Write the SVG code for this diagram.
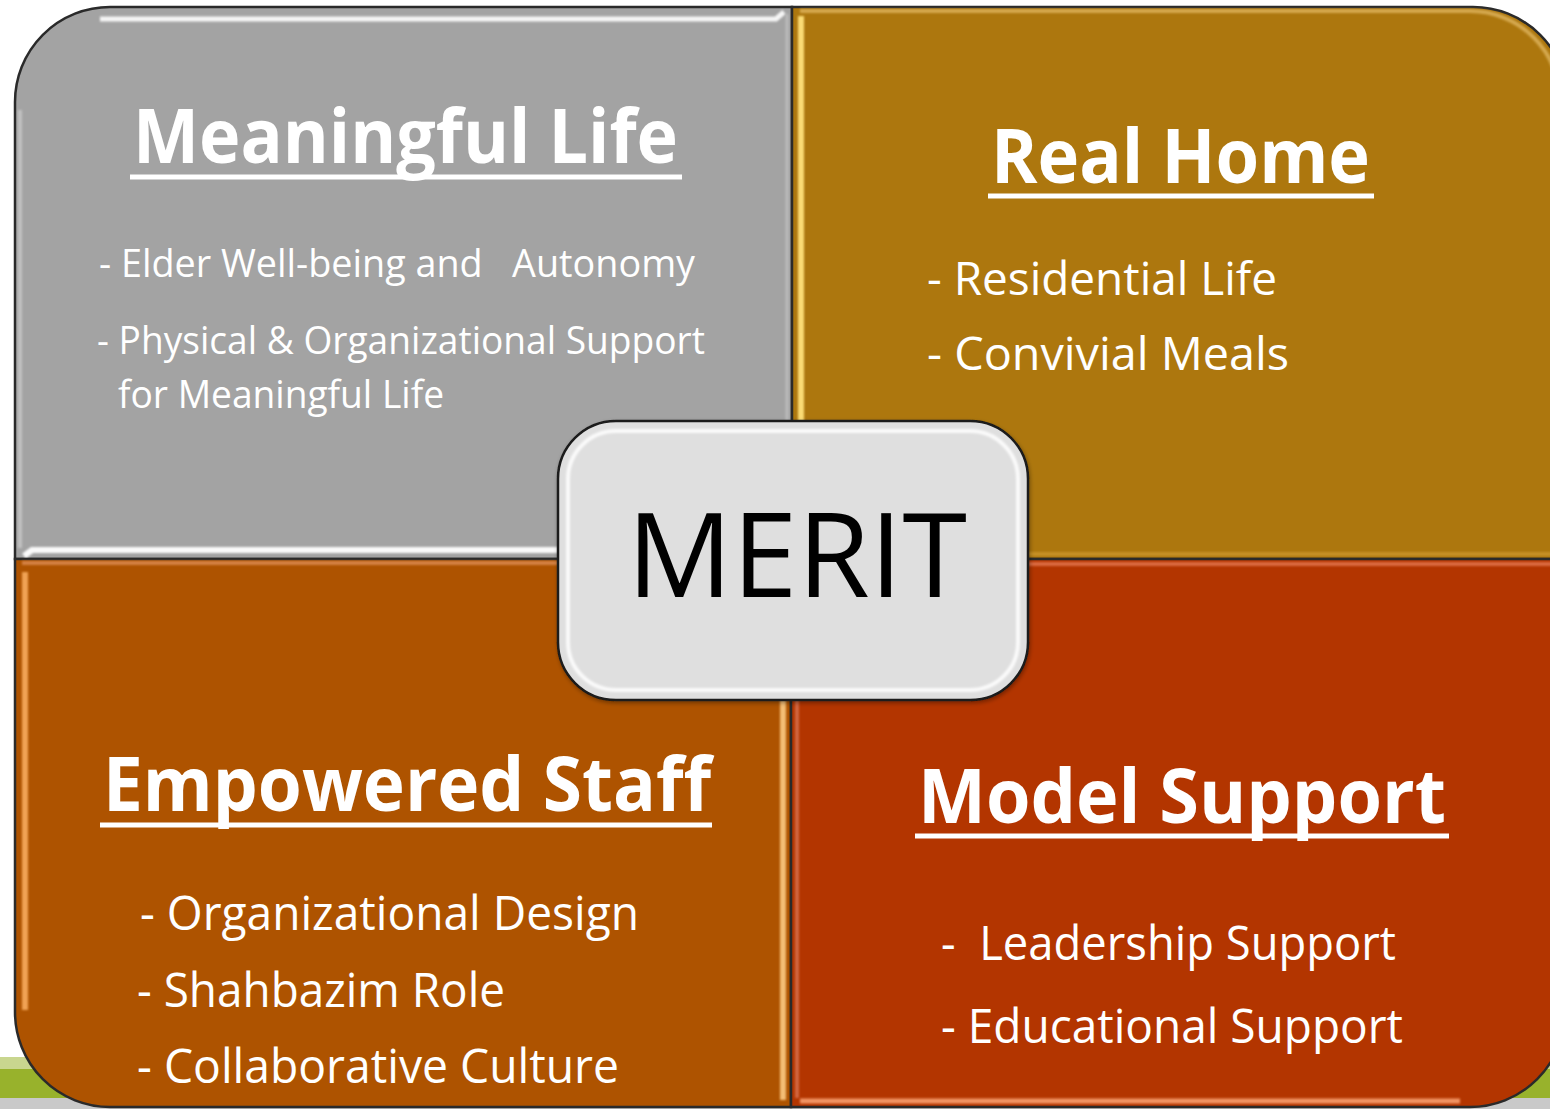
<svg xmlns="http://www.w3.org/2000/svg" width="1550" height="1109" viewBox="0 0 1550 1109">
  <style>
    .quad { stroke: #2a2a2a; stroke-width: 2.5; }
    .title { font-family: "Open Sans", "Liberation Sans", sans-serif; font-weight: 700; font-size: 76px; fill: #ffffff; }
    .body { font-family: "Open Sans", "Liberation Sans", sans-serif; font-weight: 400; fill: #ffffff; white-space: pre; }
    .uline { stroke: #ffffff; stroke-width: 5; }
    .hl { fill: none; stroke-linecap: butt; filter: url(#soft); }
    .merit { font-family: "Open Sans", "Liberation Sans", sans-serif; font-size: 118px; fill: #000000; }
  </style>
  <defs>
    <filter id="soft" filterUnits="userSpaceOnUse" x="0" y="0" width="1600" height="1120">
      <feGaussianBlur stdDeviation="1.2"/>
    </filter>
    <filter id="shadow" filterUnits="userSpaceOnUse" x="530" y="400" width="530" height="330">
      <feGaussianBlur in="SourceAlpha" stdDeviation="2"/>
      <feOffset dx="1" dy="2" result="b"/>
      <feComponentTransfer><feFuncA type="linear" slope="0.35"/></feComponentTransfer>
      <feMerge><feMergeNode/><feMergeNode in="SourceGraphic"/></feMerge>
    </filter>
  </defs>

  <!-- slide background -->
  <rect x="0" y="0" width="1550" height="1109" fill="#ffffff"/>
  <rect x="0" y="1057" width="1550" height="12" fill="#c9d68f"/>
  <rect x="0" y="1069" width="1550" height="29" fill="#98b22c"/>
  <rect x="0" y="1098" width="1550" height="11" fill="#c9c9c9"/>

  <g id="connectors"/>

  <!-- Top-left: Meaningful Life -->
  <g id="node-meaningful-life">
    <path class="quad" fill="#a3a3a3" d="M15,559 L15,102 A95,95 0 0 1 110,7 L792,7 L792,559 Z"/>
    <path class="hl" stroke="#ffffff" stroke-opacity="0.9" stroke-width="5" d="M100,19 L776,19 L784,12"/>
    <path class="hl" stroke="#ffffff" stroke-opacity="0.95" stroke-width="6" d="M24,556 L32,550 L792,550"/>
    <path class="hl" stroke="#c8c8c8" stroke-opacity="0.8" stroke-width="4" d="M20,110 L20,548"/>
    <path class="hl" stroke="#c0c0c0" stroke-opacity="0.8" stroke-width="3" d="M787,14 L787,548"/>
    <text class="title" x="133" y="163" textLength="545" lengthAdjust="spacingAndGlyphs">Meaningful Life</text>
    <line class="uline" x1="130" y1="177" x2="682" y2="177"/>
    <text class="body" font-size="38" x="99" y="277" textLength="596" lengthAdjust="spacingAndGlyphs">- Elder Well-being and   Autonomy</text>
    <text class="body" font-size="38" x="97" y="354" textLength="608" lengthAdjust="spacingAndGlyphs">- Physical &amp; Organizational Support</text>
    <text class="body" font-size="38" x="118" y="408" textLength="326" lengthAdjust="spacingAndGlyphs">for Meaningful Life</text>
  </g>

  <!-- Top-right: Real Home -->
  <g id="node-real-home">
    <path class="quad" fill="#ad770e" d="M792,7 L1473,7 A95,95 0 0 1 1568,102 L1568,559 L792,559 Z"/>
    <path class="hl" stroke="#d9ae55" stroke-opacity="0.9" stroke-width="4" d="M800,11 L1470,11 A90,90 0 0 1 1560,101"/>
    <path class="hl" stroke="#ffe07a" stroke-opacity="0.95" stroke-width="6" d="M801,16 L801,552"/>
    <path class="hl" stroke="#d29a2e" stroke-opacity="0.7" stroke-width="4" d="M800,554 L1560,554"/>
    <text class="title" x="991" y="183" textLength="379" lengthAdjust="spacingAndGlyphs">Real Home</text>
    <line class="uline" x1="988" y1="196" x2="1374" y2="196"/>
    <text class="body" font-size="46" x="927" y="295" textLength="350" lengthAdjust="spacingAndGlyphs">- Residential Life</text>
    <text class="body" font-size="46" x="927" y="370" textLength="362" lengthAdjust="spacingAndGlyphs">- Convivial Meals</text>
  </g>

  <!-- Bottom-left: Empowered Staff -->
  <g id="node-empowered-staff">
    <path class="quad" fill="#ae5300" d="M15,559 L791,559 L791,1107 L110,1107 A95,95 0 0 1 15,1012 Z"/>
    <path class="hl" stroke="#d8864a" stroke-opacity="0.9" stroke-width="4" d="M22,563 L786,563"/>
    <path class="hl" stroke="#f3a75a" stroke-opacity="0.95" stroke-width="6" d="M25,572 L25,1010"/>
    <path class="hl" stroke="#f7c37a" stroke-opacity="0.95" stroke-width="6" d="M783,568 L783,1100"/>
    <text class="title" x="103" y="811" textLength="608" lengthAdjust="spacingAndGlyphs">Empowered Staff</text>
    <line class="uline" x1="100" y1="825" x2="712" y2="825"/>
    <text class="body" font-size="47" x="140" y="930" textLength="499" lengthAdjust="spacingAndGlyphs">- Organizational Design</text>
    <text class="body" font-size="47" x="137" y="1007" textLength="368" lengthAdjust="spacingAndGlyphs">- Shahbazim Role</text>
    <text class="body" font-size="47" x="137" y="1083" textLength="482" lengthAdjust="spacingAndGlyphs">- Collaborative Culture</text>
  </g>

  <!-- Bottom-right: Model Support -->
  <g id="node-model-support">
    <path class="quad" fill="#b33500" d="M791,559 L1565,559 L1565,1012 A95,95 0 0 1 1470,1107 L791,1107 Z"/>
    <path class="hl" stroke="#e2734a" stroke-opacity="0.85" stroke-width="4" d="M798,564 L1560,564"/>
    <path class="hl" stroke="#d9734f" stroke-opacity="0.8" stroke-width="4" d="M797,568 L797,1098"/>
    <path class="hl" stroke="#f59a6a" stroke-opacity="0.95" stroke-width="5" d="M800,1101 L1460,1101"/>
    <text class="title" x="918" y="823" textLength="528" lengthAdjust="spacingAndGlyphs">Model Support</text>
    <line class="uline" x1="915" y1="836" x2="1449" y2="836"/>
    <text class="body" font-size="47" x="941" y="960" textLength="455" lengthAdjust="spacingAndGlyphs">-  Leadership Support</text>
    <text class="body" font-size="47" x="941" y="1043" textLength="462" lengthAdjust="spacingAndGlyphs">- Educational Support</text>
  </g>

  <!-- Centre: MERIT -->
  <g id="node-merit">
    <rect x="558" y="421" width="470" height="279" rx="58" ry="58" fill="#dfdfdf" stroke="#1a1a1a" stroke-width="2.5" filter="url(#shadow)"/>
    <rect x="568" y="431" width="450" height="259" rx="48" ry="48" fill="none" stroke="#ffffff" stroke-opacity="0.85" stroke-width="4" filter="url(#soft)"/>
    <text class="merit" x="627" y="597" textLength="340" lengthAdjust="spacingAndGlyphs">MERIT</text>
  </g>
</svg>
